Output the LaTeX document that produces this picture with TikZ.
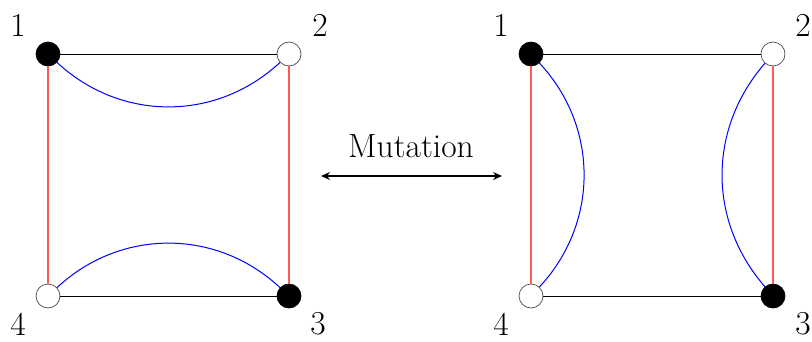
\documentclass[tikz,border=0pt]{standalone}
\usetikzlibrary{arrows.meta}
\begin{document}
\begin{tikzpicture}[x=1pt,y=-1pt,
  vtx/.style={circle,minimum size=24pt,inner sep=0pt,line width=0.7pt},
  blk/.style={vtx,draw=black,fill=black},
  wht/.style={vtx,draw=black!70,fill=white},
  lab/.style={font=\fontsize{33.5}{40}\selectfont,inner sep=0pt},
  hedge/.style={line width=0.9pt,black},
  redge/.style={line width=1.1pt,red!65},
  bedge/.style={line width=1pt,blue}]
\useasboundingbox (0,0) rectangle (812,341);
% left square
\node[blk] (a1) at (48,54) {};
\node[wht] (a2) at (289,54) {};
\node[blk] (a3) at (289,296) {};
\node[wht] (a4) at (48,296) {};
\node[lab] (la1) at (18,25) {1};
\node[lab] (la2) at (320,25) {2};
\node[lab] (la3) at (318,324) {3};
\node[lab] (la4) at (18,324) {4};
\draw[hedge] (a1) -- (a2);
\draw[hedge] (a4) -- (a3);
\draw[redge] (a1) -- (a4);
\draw[redge] (a2) -- (a3);
\draw[bedge] (a1) to[bend right=43] (a2);
\draw[bedge] (a4) to[bend left=43] (a3);
% right square
\node[blk] (b1) at (531,54) {};
\node[wht] (b2) at (773,54) {};
\node[blk] (b3) at (773,296) {};
\node[wht] (b4) at (531,296) {};
\node[lab] (lb1) at (501,25) {1};
\node[lab] (lb2) at (803,25) {2};
\node[lab] (lb3) at (803,324) {3};
\node[lab] (lb4) at (501,324) {4};
\draw[hedge] (b1) -- (b2);
\draw[hedge] (b4) -- (b3);
\draw[redge] (b1) -- (b4);
\draw[redge] (b2) -- (b3);
\draw[bedge] (b1) to[bend left=43] (b4);
\draw[bedge] (b2) to[bend right=41] (b3);
% mutation arrow
\coordinate (m1) at (321,176);
\coordinate (m2) at (502,176);
\draw[line width=1.4pt,{Stealth[length=9pt,width=8pt,inset=3pt]}-{Stealth[length=9pt,width=8pt,inset=3pt]}] (m1) -- (m2);
\node[lab] (mut) at (411,146) {Mutation};
\end{tikzpicture}
\end{document}
